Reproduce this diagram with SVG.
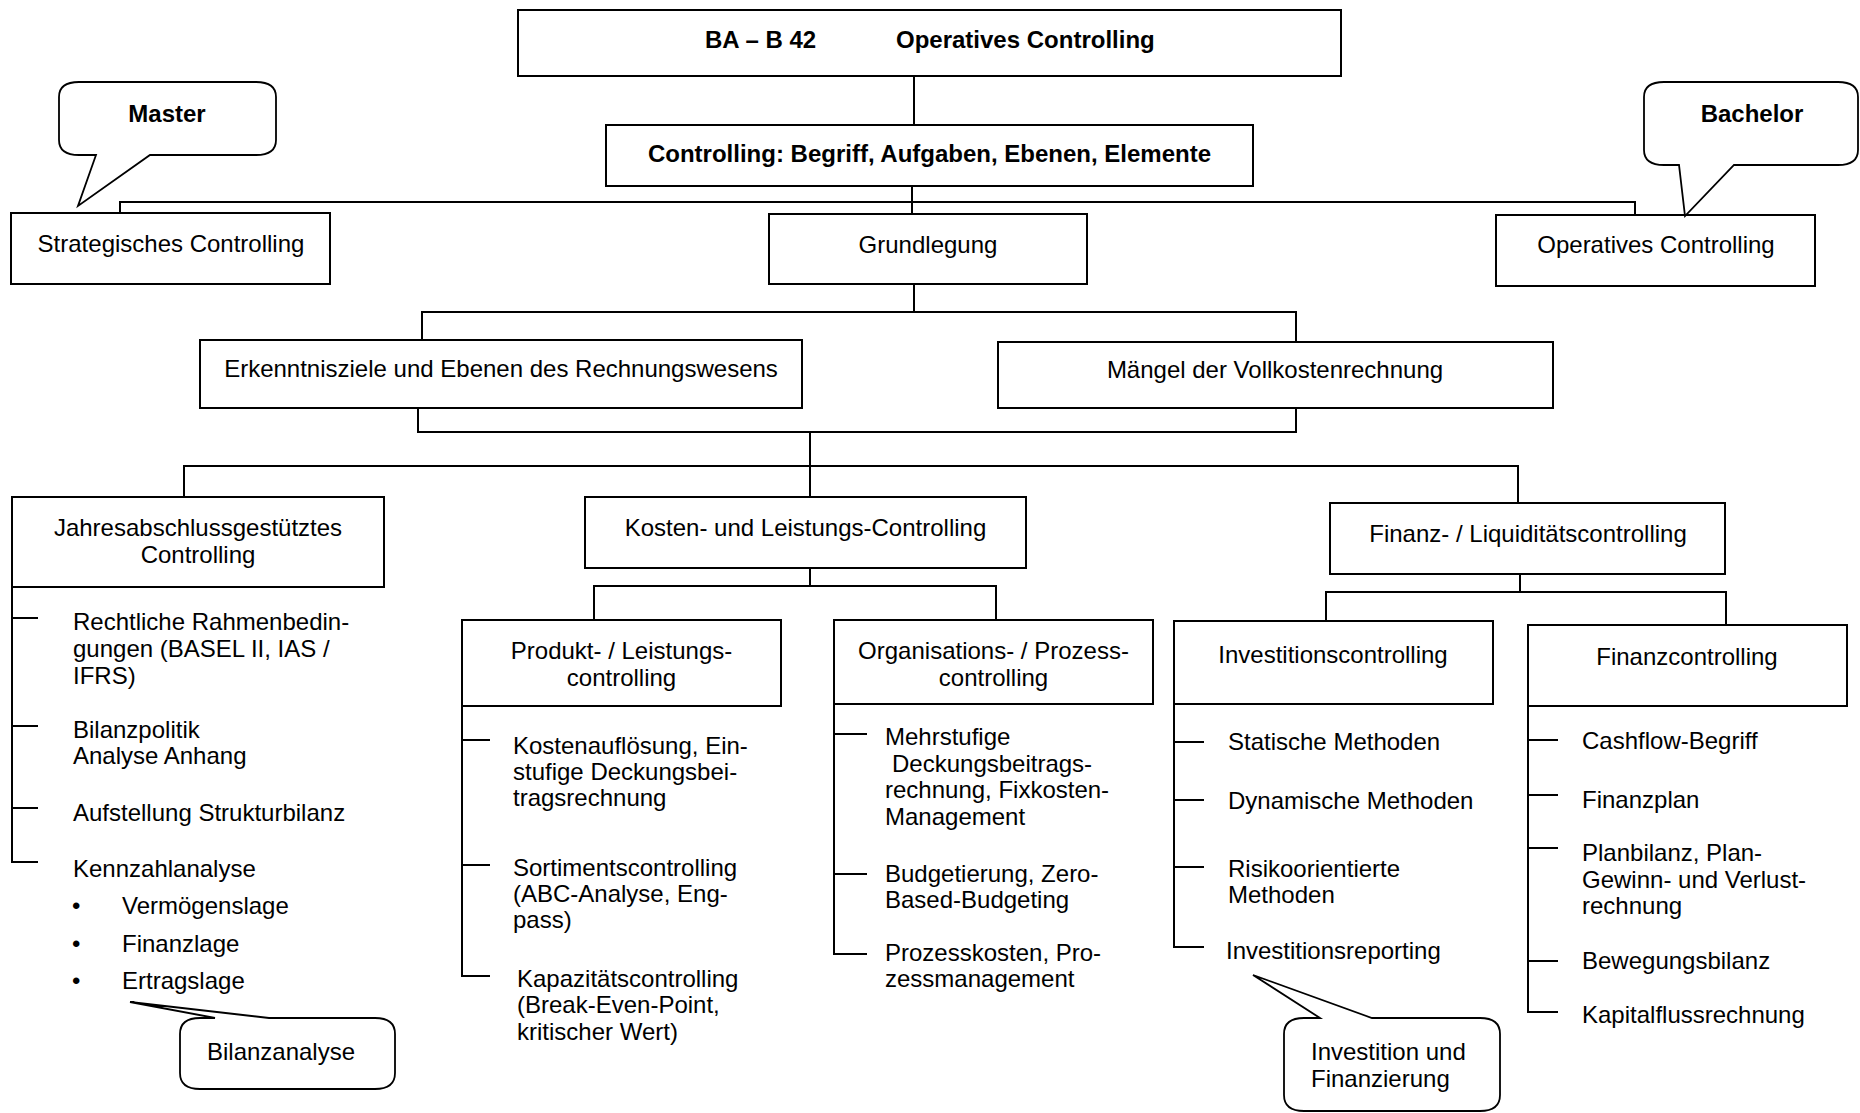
<svg xmlns="http://www.w3.org/2000/svg" width="1860" height="1113" viewBox="0 0 1860 1113">
<style>
.box{fill:#fff;stroke:#000;stroke-width:2}
.ln{fill:none;stroke:#000;stroke-width:2}
.co{fill:#fff;stroke:#000;stroke-width:1.8;stroke-linejoin:miter}
text{font-family:"Liberation Sans",Arial,sans-serif;font-size:24px;fill:#000}
.c{text-anchor:middle}
.b{font-weight:bold}
</style>
<rect width="1860" height="1113" fill="#fff"/>
<g id="connectors" class="ln">
<path d="M914 76V125"/>
<path d="M912 186V214"/>
<path d="M120 213V202H1635V215"/>
<path d="M914 284V312"/>
<path d="M422 340V312H1296V342"/>
<path d="M418 408V432H1296V408"/>
<path d="M810 432V497"/>
<path d="M184 497V466H1518V503"/>
<path d="M810 568V586"/>
<path d="M594 620V586H996V620"/>
<path d="M1520 574V592"/>
<path d="M1326 621V592H1726V625"/>
<path d="M12 587V862H38M12 618H38M12 726H38M12 808H38"/>
<path d="M462 706V976H490M462 740H490M462 865H490"/>
<path d="M834 704V954H867M834 734H867M834 874H867"/>
<path d="M1174 704V947H1204M1174 742H1204M1174 800H1204M1174 867H1204"/>
<path d="M1528 706V1012H1558M1528 740H1558M1528 795H1558M1528 848H1558M1528 961H1558"/>
</g>
<g id="n-title"><rect class="box" x="518" y="10" width="823" height="66"/><text class="b" x="705" y="48">BA – B 42</text><text class="b" x="896" y="48">Operatives Controlling</text></g>
<g id="n-controlling"><rect class="box" x="606" y="125" width="647" height="61"/><text class="c b" x="929.5" y="162">Controlling: Begriff, Aufgaben, Ebenen, Elemente</text></g>
<g id="n-strategisch"><rect class="box" x="11" y="213" width="319" height="71"/><text class="c" x="171" y="252">Strategisches Controlling</text></g>
<g id="n-grundlegung"><rect class="box" x="769" y="214" width="318" height="70"/><text class="c" x="928" y="253">Grundlegung</text></g>
<g id="n-operativ"><rect class="box" x="1496" y="215" width="319" height="71"/><text class="c" x="1656" y="253">Operatives Controlling</text></g>
<g id="callout-master"><path class="co" d="M79 82H256Q276 82 276 97V140Q276 155 256 155H150L78 206L96 155H79Q59 155 59 140V97Q59 82 79 82Z"/><text class="c b" x="167" y="122">Master</text></g>
<g id="callout-bachelor"><path class="co" d="M1664 82H1838Q1858 82 1858 97V150Q1858 165 1838 165H1734L1685 216L1679 165H1664Q1644 165 1644 150V97Q1644 82 1664 82Z"/><text class="c b" x="1752" y="122">Bachelor</text></g>
<g id="n-erkenntnis"><rect class="box" x="200" y="340" width="602" height="68"/><text class="c" x="501" y="377">Erkenntnisziele und Ebenen des Rechnungswesens</text></g>
<g id="n-maengel"><rect class="box" x="998" y="342" width="555" height="66"/><text class="c" x="1275" y="378">Mängel der Vollkostenrechnung</text></g>
<g id="n-jahres"><rect class="box" x="12" y="497" width="372" height="90"/><text class="c" x="198" y="536">Jahresabschlussgestütztes</text><text class="c" x="198" y="563">Controlling</text></g>
<g id="n-kosten"><rect class="box" x="585" y="497" width="441" height="71"/><text class="c" x="805.5" y="536">Kosten- und Leistungs-Controlling</text></g>
<g id="n-finanzliq"><rect class="box" x="1330" y="503" width="395" height="71"/><text class="c" x="1528" y="542">Finanz- / Liquiditätscontrolling</text></g>
<g id="n-produkt"><rect class="box" x="462" y="620" width="319" height="86"/><text class="c" x="621.5" y="659">Produkt- / Leistungs-</text><text class="c" x="621.5" y="686">controlling</text></g>
<g id="n-organisation"><rect class="box" x="834" y="620" width="319" height="84"/><text class="c" x="993.5" y="659">Organisations- / Prozess-</text><text class="c" x="993.5" y="686">controlling</text></g>
<g id="n-investition"><rect class="box" x="1174" y="621" width="319" height="83"/><text class="c" x="1333" y="663">Investitionscontrolling</text></g>
<g id="n-finanzcontrolling"><rect class="box" x="1528" y="625" width="319" height="81"/><text class="c" x="1687" y="665">Finanzcontrolling</text></g>
<g id="list-jahres">
<text x="73" y="630">Rechtliche Rahmenbedin-</text><text x="73" y="657">gungen (BASEL II, IAS /</text><text x="73" y="684">IFRS)</text>
<text x="73" y="738">Bilanzpolitik</text><text x="73" y="764">Analyse Anhang</text>
<text x="73" y="821">Aufstellung Strukturbilanz</text>
<text x="73" y="877">Kennzahlanalyse</text>
<text x="72" y="914">•</text><text x="122" y="914">Vermögenslage</text>
<text x="72" y="952">•</text><text x="122" y="952">Finanzlage</text>
<text x="72" y="989">•</text><text x="122" y="989">Ertragslage</text>
</g>
<g id="callout-bilanz"><path class="co" d="M200 1018H215L130 1002L269 1018H375Q395 1018 395 1034V1073Q395 1089 375 1089H200Q180 1089 180 1073V1034Q180 1018 200 1018Z"/><text class="c" x="281" y="1060">Bilanzanalyse</text></g>
<g id="list-produkt">
<text x="513" y="754">Kostenauflösung, Ein-</text><text x="513" y="780">stufige Deckungsbei-</text><text x="513" y="806">tragsrechnung</text>
<text x="513" y="876">Sortimentscontrolling</text><text x="513" y="902">(ABC-Analyse, Eng-</text><text x="513" y="928">pass)</text>
<text x="517" y="987">Kapazitätscontrolling</text><text x="517" y="1013">(Break-Even-Point,</text><text x="517" y="1040">kritischer Wert)</text>
</g>
<g id="list-organisation">
<text x="885" y="745">Mehrstufige</text><text x="892" y="772">Deckungsbeitrags-</text><text x="885" y="798">rechnung, Fixkosten-</text><text x="885" y="825">Management</text>
<text x="885" y="882">Budgetierung, Zero-</text><text x="885" y="908">Based-Budgeting</text>
<text x="885" y="961">Prozesskosten, Pro-</text><text x="885" y="987">zessmanagement</text>
</g>
<g id="list-investition">
<text x="1228" y="750">Statische Methoden</text>
<text x="1228" y="809">Dynamische Methoden</text>
<text x="1228" y="877">Risikoorientierte</text><text x="1228" y="903">Methoden</text>
<text x="1226" y="959">Investitionsreporting</text>
</g>
<g id="callout-invfin"><path class="co" d="M1304 1018H1320L1253 975L1372 1018H1480Q1500 1018 1500 1034V1095Q1500 1111 1480 1111H1304Q1284 1111 1284 1095V1034Q1284 1018 1304 1018Z"/><text x="1311" y="1060">Investition und</text><text x="1311" y="1087">Finanzierung</text></g>
<g id="list-finanz">
<text x="1582" y="749">Cashflow-Begriff</text>
<text x="1582" y="808">Finanzplan</text>
<text x="1582" y="861">Planbilanz, Plan-</text><text x="1582" y="888">Gewinn- und Verlust-</text><text x="1582" y="914">rechnung</text>
<text x="1582" y="969">Bewegungsbilanz</text>
<text x="1582" y="1023">Kapitalflussrechnung</text>
</g>
</svg>
